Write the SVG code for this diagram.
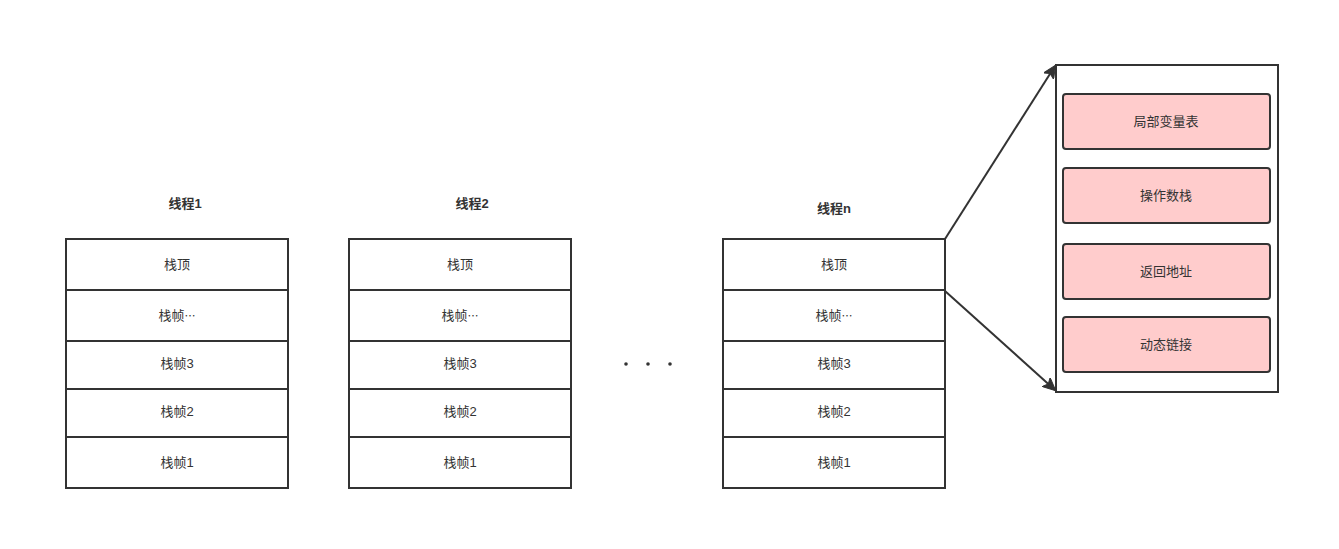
<svg xmlns="http://www.w3.org/2000/svg" width="1339" height="549" viewBox="0 0 1339 549">
<style>
.cell{fill:#ffffff;stroke:#333333;stroke-width:2}
.item{fill:#ffcccc;stroke:#333333;stroke-width:2}
.t{font-family:"Liberation Sans","Noto Sans CJK SC",sans-serif;font-size:13px;fill:#333333;text-anchor:middle;dominant-baseline:central}
.h{font-weight:bold}
.cj{font-family:"Noto Sans CJK SC",sans-serif;font-size:11px}
.edge{fill:none;stroke:#333333;stroke-width:2}
</style>
<defs>
<marker id="arr" markerWidth="13" markerHeight="12" refX="12" refY="6" orient="auto" markerUnits="userSpaceOnUse" viewBox="0 0 13 12">
<path d="M0,0 L13,6 L0,12 L3,6 Z" fill="#333333" stroke="#333333" stroke-width="1"/>
</marker>
</defs>
<rect width="1339" height="549" fill="#ffffff"/>
<g id="thread1">
<text class="t h" x="185" y="203">线程1</text>
<rect class="cell" x="66" y="239" width="222" height="51"/><text class="t" x="177" y="264">栈顶</text>
<rect class="cell" x="66" y="290" width="222" height="51"/><text class="t" x="177" y="315">栈帧<tspan class="cj">…</tspan></text>
<rect class="cell" x="66" y="341" width="222" height="48"/><text class="t" x="177" y="363">栈帧3</text>
<rect class="cell" x="66" y="389" width="222" height="48"/><text class="t" x="177" y="411">栈帧2</text>
<rect class="cell" x="66" y="437" width="222" height="51"/><text class="t" x="177" y="462">栈帧1</text>
</g>
<g id="thread2">
<text class="t h" x="472" y="203">线程2</text>
<rect class="cell" x="349" y="239" width="222" height="51"/><text class="t" x="460" y="264">栈顶</text>
<rect class="cell" x="349" y="290" width="222" height="51"/><text class="t" x="460" y="315">栈帧<tspan class="cj">…</tspan></text>
<rect class="cell" x="349" y="341" width="222" height="48"/><text class="t" x="460" y="363">栈帧3</text>
<rect class="cell" x="349" y="389" width="222" height="48"/><text class="t" x="460" y="411">栈帧2</text>
<rect class="cell" x="349" y="437" width="222" height="51"/><text class="t" x="460" y="462">栈帧1</text>
</g>
<g id="dots">
<circle cx="626" cy="364" r="1.8" fill="#333333"/>
<circle cx="648" cy="364" r="1.8" fill="#333333"/>
<circle cx="670" cy="364" r="1.8" fill="#333333"/>
</g>
<g id="threadn">
<text class="t h" x="834" y="208">线程n</text>
<rect class="cell" x="723" y="239" width="222" height="51"/><text class="t" x="834" y="264">栈顶</text>
<rect class="cell" x="723" y="290" width="222" height="51"/><text class="t" x="834" y="315">栈帧<tspan class="cj">…</tspan></text>
<rect class="cell" x="723" y="341" width="222" height="48"/><text class="t" x="834" y="363">栈帧3</text>
<rect class="cell" x="723" y="389" width="222" height="48"/><text class="t" x="834" y="411">栈帧2</text>
<rect class="cell" x="723" y="437" width="222" height="51"/><text class="t" x="834" y="462">栈帧1</text>
</g>
<g id="frame">
<rect class="cell" x="1056" y="65" width="222" height="327"/>
</g>
<g id="locals"><rect class="item" x="1063" y="94" width="207" height="55" rx="3"/><text class="t" x="1166" y="121">局部变量表</text></g>
<g id="operand"><rect class="item" x="1063" y="168" width="207" height="55" rx="3"/><text class="t" x="1166" y="195">操作数栈</text></g>
<g id="retaddr"><rect class="item" x="1063" y="244" width="207" height="55" rx="3"/><text class="t" x="1166" y="271">返回地址</text></g>
<g id="dynlink"><rect class="item" x="1063" y="317" width="207" height="55" rx="3"/><text class="t" x="1166" y="344">动态链接</text></g>
<g id="connectors">
<line class="edge" x1="945" y1="239" x2="1055" y2="66" marker-end="url(#arr)"/>
<line class="edge" x1="945" y1="291" x2="1055" y2="390" marker-end="url(#arr)"/>
</g>
</svg>
